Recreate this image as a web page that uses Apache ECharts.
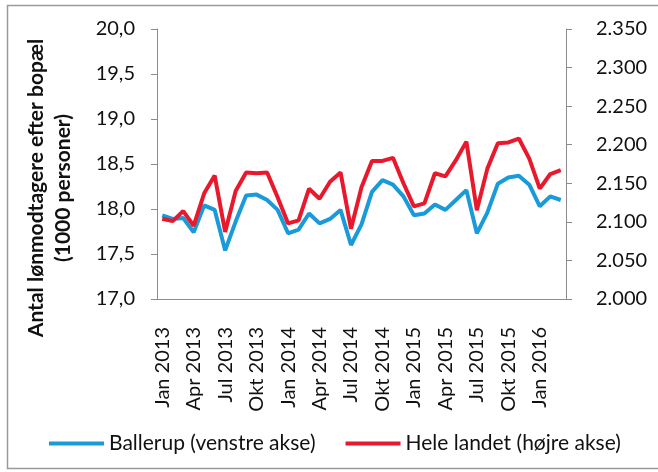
<!DOCTYPE html>
<html>
<head>
<meta charset="utf-8">
<script src="https://cdn.jsdelivr.net/npm/echarts@6/dist/echarts.min.js"></script>
<style>
  html, body { margin: 0; padding: 0; background: #fff; }
  #chart { width: 658px; height: 472px; }
</style>
</head>
<body>
<div id="chart"></div>
<script>
// måneder jan 2013 - mar 2016
const months = [
  "Jan 2013", "Feb 2013", "Mar 2013", "Apr 2013", "Maj 2013", "Jun 2013",
  "Jul 2013", "Aug 2013", "Sep 2013", "Okt 2013", "Nov 2013", "Dec 2013",
  "Jan 2014", "Feb 2014", "Mar 2014", "Apr 2014", "Maj 2014", "Jun 2014",
  "Jul 2014", "Aug 2014", "Sep 2014", "Okt 2014", "Nov 2014", "Dec 2014",
  "Jan 2015", "Feb 2015", "Mar 2015", "Apr 2015", "Maj 2015", "Jun 2015",
  "Jul 2015", "Aug 2015", "Sep 2015", "Okt 2015", "Nov 2015", "Dec 2015",
  "Jan 2016", "Feb 2016", "Mar 2016"
];

// Ballerup, 1000 personer (venstre akse)
const ballerup = [
  17.93, 17.89, 17.90, 17.74, 18.04, 17.99, 17.54, 17.86, 18.15, 18.16, 18.10, 17.99,
  17.73, 17.77, 17.95, 17.84, 17.89, 17.99, 17.60, 17.83, 18.19, 18.32, 18.27, 18.14,
  17.93, 17.95, 18.05, 17.99, 18.10, 18.21, 17.73, 17.96, 18.28, 18.35, 18.37, 18.27,
  18.03, 18.14, 18.10
];

// Hele landet, 1000 personer (højre akse)
const heleLandet = [
  2104, 2101, 2114, 2095, 2137, 2160, 2087, 2140, 2164, 2163, 2164, 2132,
  2098, 2102, 2143, 2130, 2152, 2164, 2091, 2145, 2179, 2179, 2183, 2150,
  2120, 2124, 2163, 2159, 2180, 2204, 2115, 2169, 2202, 2203, 2208, 2182,
  2143, 2162, 2167
];

const FONT = "Lato";
const axisGray = "#8c8c8c";

let myChart = echarts.init(document.getElementById("chart"));
myChart.setOption({
  animation: false,
  textStyle: { fontFamily: FONT },
  grid: { left: 157, right: 92, top: 29, bottom: 173 },
  legend: {
    bottom: 13,
    left: 44,
    itemWidth: 55,
    itemHeight: 4,
    itemGap: 30,
    icon: "rect",
    textStyle: { fontSize: 21, color: "#111", fontFamily: FONT },
    data: ["Ballerup (venstre akse)", "Hele landet (højre akse)"]
  },
  graphic: [
    {
      type: "rect",
      shape: { x: 7.5, y: 5.5, width: 700, height: 463 },
      style: { fill: "none", stroke: "#9a9a9a", lineWidth: 1.5 },
      silent: true
    },
    {
      type: "text",
      x: 50,
      y: 188,
      rotation: Math.PI / 2,
      style: {
        text: "Antal lønmodtagere efter bopæl\n(1000 personer)",
        font: "bold 21px " + FONT,
        fill: "#111",
        align: "center",
        verticalAlign: "middle",
        lineHeight: 27
      }
    }
  ],
  xAxis: {
    type: "category",
    data: months,
    boundaryGap: true,
    axisLine: { lineStyle: { color: axisGray } },
    axisTick: { interval: 0, length: 6, lineStyle: { color: axisGray } },
    axisLabel: {
      interval: 2,
      rotate: 90,
      margin: 28,
      fontSize: 20,
      color: "#111"
    }
  },
  yAxis: [
    {
      type: "value",
      min: 17,
      max: 20,
      interval: 0.5,
      splitLine: { show: false },
      axisLine: { show: true, lineStyle: { color: axisGray } },
      axisTick: { show: true, length: 6, lineStyle: { color: axisGray } },
      axisLabel: {
        fontSize: 20,
        color: "#111",
        margin: 22,
        formatter: (v) => v.toFixed(1).replace(".", ",")
      }
    },
    {
      type: "value",
      min: 2000,
      max: 2350,
      interval: 50,
      position: "right",
      splitLine: { show: false },
      axisLine: { show: true, lineStyle: { color: axisGray } },
      axisTick: { show: true, length: 6, lineStyle: { color: axisGray } },
      axisLabel: {
        fontSize: 20,
        color: "#111",
        margin: 30,
        formatter: (v) => {
          let s = String(v);
          return s.slice(0, 1) + "." + s.slice(1);
        }
      }
    }
  ],
  series: [
    {
      name: "Ballerup (venstre akse)",
      type: "line",
      yAxisIndex: 0,
      data: ballerup,
      showSymbol: false,
      color: "#1b9ad9",
      lineStyle: { width: 4, color: "#1b9ad9" }
    },
    {
      name: "Hele landet (højre akse)",
      type: "line",
      yAxisIndex: 1,
      data: heleLandet,
      showSymbol: false,
      color: "#e8192c",
      lineStyle: { width: 4, color: "#e8192c" }
    }
  ]
});
</script>
</body>
</html>
